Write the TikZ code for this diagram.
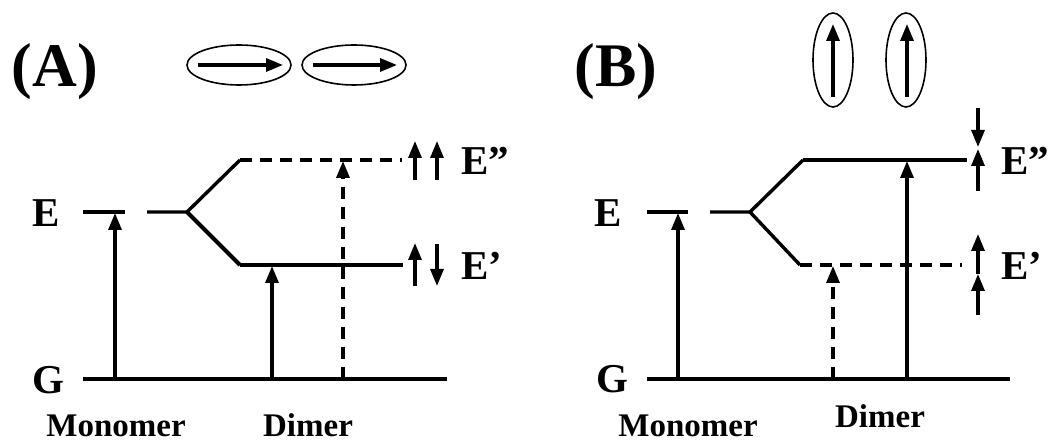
\documentclass[tikz,border=0pt]{standalone}
\usepackage{fontspec}
\setmainfont{Liberation Serif}
\usetikzlibrary{arrows.meta}
\begin{document}
\begin{tikzpicture}[x=1pt,y=-1pt,
  lvl/.style={line width=3.4pt},
  dlvl/.style={line width=3.4pt, dash pattern=on 12pt off 8pt},
  tr/.style={line width=3.2pt,-{Triangle[width=13pt,length=17pt]}},
  dtr/.style={tr, dash pattern=on 12pt off 8pt},
  spin/.style={line width=3.2pt,-{Triangle[width=13pt,length=17pt]}},
  lab/.style={font=\bfseries\fontsize{41}{41}\selectfont, inner sep=0pt},
  panel/.style={font=\bfseries\fontsize{62}{62}\selectfont, inner sep=0pt},
  capt/.style={font=\bfseries\fontsize{33}{33}\selectfont, inner sep=0pt, text depth=0pt},
  mol/.style={line width=1.6pt},
  dip/.style={line width=3.2pt,-{Triangle[width=13pt,length=17pt]}}]
\useasboundingbox (0,0) rectangle (1052,443);

% ---------- Panel A ----------
\node[panel, anchor=base] (pA) at (55,87) {(A)};
\draw[mol] (239,65) ellipse [x radius=52, y radius=20];
\draw[mol] (354,65) ellipse [x radius=52, y radius=20];
\coordinate (a1s) at (198,65); \coordinate (a1e) at (283,65);
\coordinate (a2s) at (313,65); \coordinate (a2e) at (397,65);
\draw[dip] (a1s) -- (a1e);
\draw[dip] (a2s) -- (a2e);

\node[lab, anchor=base] (EA) at (46,227) {E};
\node[lab, anchor=base] (GA) at (48,393) {G};
\node[lab, anchor=base west] (EppA) at (461,175) {E”};
\node[lab, anchor=base west] (EpA) at (461,280) {E’};
\node[capt, anchor=base] (monA) at (116,436) {Monomer};
\node[capt, anchor=base] (dimA) at (308,436) {Dimer};

\coordinate (Am1) at (83,212);  \coordinate (Am2) at (125,212);
\coordinate (Ad1) at (147,212); \coordinate (Ad2) at (187,212);
\coordinate (Au1) at (240,160); \coordinate (Au2) at (402,160);
\coordinate (Al1) at (240,265); \coordinate (Al2) at (403,265);
\coordinate (Ag1) at (83,379);  \coordinate (Ag2) at (447,379);

\draw[lvl] (Am1) -- (Am2);
\draw[lvl] (Ad1) -- (Ad2) -- (Au1);
\draw[line width=4.2pt] (Ad2) -- (Al1);
\draw[dlvl] (Au1) -- (Au2);
\draw[lvl] (Al1) -- (Al2);
\draw[lvl] (Ag1) -- (Ag2);

\draw[tr]  (115,379) -- (115,213);
\draw[tr]  (272,379) -- (272,266);
\draw[dtr] (343,379) -- (343,161);

\draw[spin] (415,180) -- (415,141);
\draw[spin] (437,180) -- (437,141);
\draw[spin] (415,286) -- (415,243);
\draw[spin] (437,244) -- (437,286);

% ---------- Panel B ----------
\node[panel, anchor=base] (pB) at (616,87) {(B)};
\draw[mol] (833,60) ellipse [x radius=20, y radius=47];
\draw[mol] (906,60) ellipse [x radius=20, y radius=47];
\coordinate (b1s) at (833,97); \coordinate (b1e) at (833,24);
\coordinate (b2s) at (907,97); \coordinate (b2e) at (907,24);
\draw[dip] (b1s) -- (b1e);
\draw[dip] (b2s) -- (b2e);

\node[lab, anchor=base] (EB) at (608,227) {E};
\node[lab, anchor=base] (GB) at (612,392) {G};
\node[lab, anchor=base west] (EppB) at (1001,175) {E”};
\node[lab, anchor=base west] (EpB) at (1001,280) {E’};
\node[capt, anchor=base] (monB) at (688,436) {Monomer};
\node[capt, anchor=base] (dimB) at (880,428) {Dimer};

\coordinate (Bm1) at (647,212); \coordinate (Bm2) at (688,212);
\coordinate (Bd1) at (710,212); \coordinate (Bd2) at (750,212);
\coordinate (Bu1) at (803,160); \coordinate (Bu2) at (967,160);
\coordinate (Bl1) at (800,265); \coordinate (Bl2) at (962,265);
\coordinate (Bg1) at (647,379); \coordinate (Bg2) at (1010,379);

\draw[lvl] (Bm1) -- (Bm2);
\draw[lvl] (Bd1) -- (Bd2) -- (Bu1);
\draw[lvl] (Bd2) -- (Bl1);
\draw[lvl] (Bu1) -- (Bu2);
\draw[dlvl] (Bl1) -- (Bl2);
\draw[lvl] (Bg1) -- (Bg2);

\draw[tr]  (678,379) -- (678,213);
\draw[dtr] (833,379) -- (833,266);
\draw[tr]  (907,379) -- (907,161);

\draw[spin] (978,108) -- (978,147);
\draw[spin] (978,191) -- (978,149);
\draw[spin] (978,274) -- (978,234);
\draw[spin] (978,315) -- (978,274);
\end{tikzpicture}
\end{document}
